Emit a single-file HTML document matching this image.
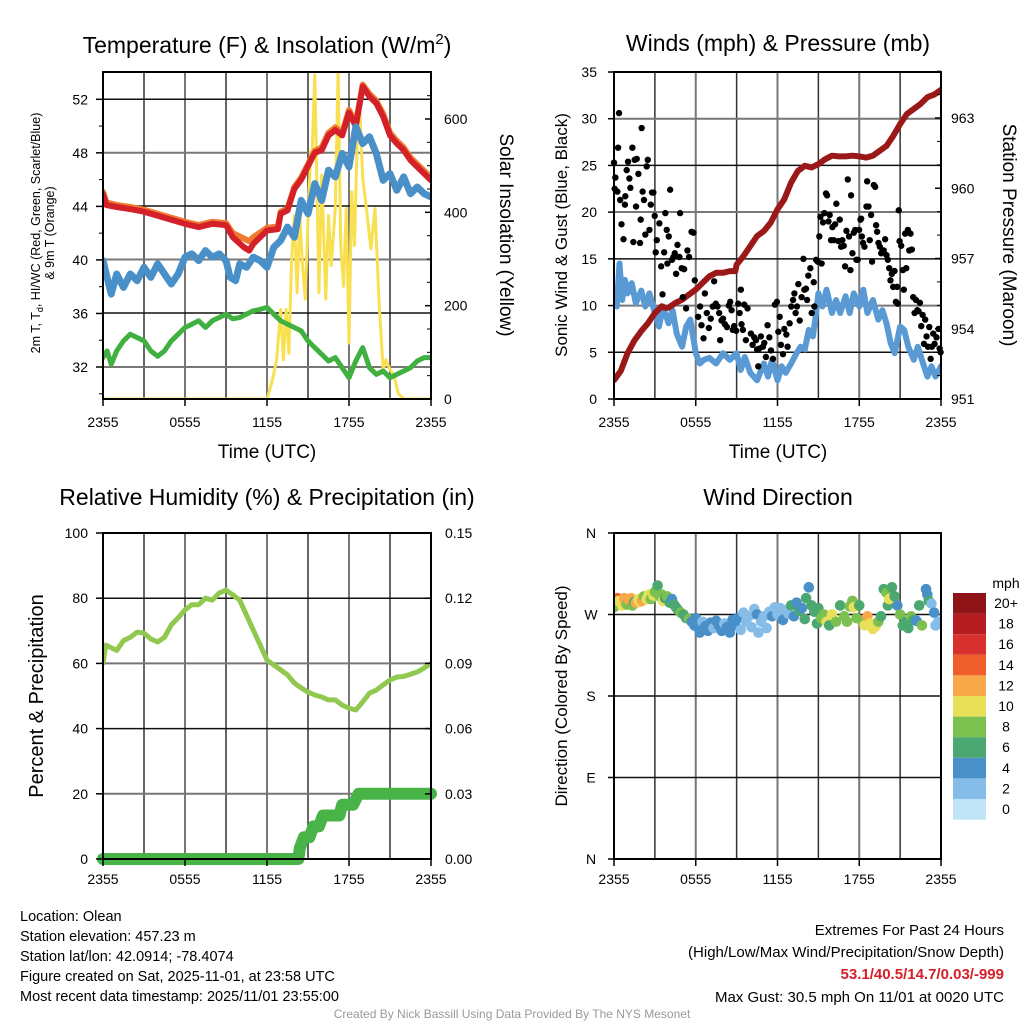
<!DOCTYPE html>
<html><head><meta charset="utf-8"><style>
body{margin:0;background:#fff;}
svg{display:block;font-family:"Liberation Sans",sans-serif;}
</style></head><body>
<svg id="c" width="1024" height="1024" viewBox="0 0 1024 1024" xmlns="http://www.w3.org/2000/svg"></svg>
<script>
// ===== DATA =====
const redHr=[0,0.25,1,2,3,4,5,6,7,8,9,9.5,10.3,10.7,11,12,12.8,13,13.5,14,14.5,15,15.5,16,16.5,17,17.5,18,18.5,19,19.5,20,20.5,21,21.5,22,22.5,23,23.5,24];
const redVal=[44.9,44.1,43.95,43.8,43.6,43.3,43,42.7,42.45,42.7,42.6,41.7,40.95,40.7,41.2,42.2,42.3,43.45,43.7,45.3,46,47,48,48.2,49.3,49.7,49.3,51,50,52.95,52.2,51.7,50.7,49.3,48.7,48.2,47.45,46.95,46.45,45.95];
const orangeVal=[45.1,44.3,44.1,43.95,43.75,43.45,43.15,42.85,42.6,42.85,42.75,42.0,41.6,41.4,41.7,42.4,42.5,43.6,43.85,45.45,46.15,47.15,48.15,48.4,49.5,49.9,49.5,51.2,50.2,53.1,52.4,51.9,50.9,49.5,48.9,48.4,47.65,47.15,46.65,46.15];
const dewHr=[0,0.3,0.6,1,1.5,2,2.5,3,3.5,4,4.5,5,5.5,6,6.5,7,7.5,8,8.5,9,9.3,9.7,10,10.5,11,11.5,12,12.5,13,13.5,14,14.5,15,15.5,16,16.5,17,17.5,18,18.5,19,19.5,20,20.5,21,21.5,22,22.5,23,23.5,24];
const dewVal=[39.95,38.7,37.45,38.95,37.95,38.95,38.45,39.45,38.7,39.7,38.95,38.2,38.95,40.2,40.45,39.95,40.7,40.2,40.45,39.95,38.7,38.45,39.7,39.45,40.2,39.95,39.45,40.95,41.45,42.45,41.7,44.45,43.45,45.7,44.45,46.7,46.2,47.95,46.95,49.95,48.7,49.2,47.95,45.95,46.45,45.2,46.2,44.95,45.45,44.95,44.7];
const tdHr=[0,0.3,0.6,1,1.5,2,2.5,3,3.5,4,4.5,5,5.5,6,6.5,7,7.5,8,8.5,9,9.5,10,10.5,11,11.5,12,12.5,13,13.5,14,14.5,15,15.5,16,16.5,17,17.5,18,18.5,19,19.5,20,20.5,21,21.5,22,22.5,23,23.5,24];
const tdVal=[32.7,33.2,32.2,33.2,33.95,34.45,34.2,33.95,33.2,32.8,33.2,33.95,34.45,34.95,35.2,35.45,34.95,35.45,35.7,35.95,35.6,35.7,35.95,36.2,36.3,36.45,35.95,35.45,35.2,34.95,34.7,33.95,33.45,32.95,32.45,32.7,31.95,31.2,32.45,33.45,31.95,31.45,31.7,31.2,31.45,31.7,31.95,32.45,32.7,32.7];
const solHr=[0,12,12.4,12.7,13,13.2,13.4,13.6,13.8,14,14.2,14.4,14.6,14.8,15,15.2,15.3,15.5,15.7,15.8,16,16.3,16.5,16.7,17,17.2,17.4,17.6,17.8,18,18.2,18.4,18.6,18.8,19,19.3,19.6,19.9,20.2,20.5,20.7,21,21.3,21.6,22,24];
const solVal=[0,0,41,84,192,84,192,98,300,393,228,393,286,214,386,530,523,695,386,228,480,214,393,286,408,703,329,242,408,120,444,329,559,616,474,401,322,408,206,63,84,63,50,12,0,0];
const presHr=[0,0.5,1,1.5,2,2.5,3,3.5,3.7,4,4.5,5,5.5,6,6.5,7,7.5,8,8.5,8.9,9,9.5,10,10.5,11,11.5,12,12.5,13,13.5,14,14.5,15,15.5,16,16.5,17,17.5,18,18.5,19,19.5,20,20.5,21,21.5,22,22.5,23,23.5,24];
const presVal=[951.8,952.2,952.96,953.5,953.9,954.24,954.67,954.96,954.9,954.9,955.1,955.24,955.46,955.67,955.96,956.24,956.39,956.39,956.46,956.46,956.74,957.1,957.53,957.96,958.17,958.53,959.1,959.53,960.24,960.74,960.96,960.89,961.03,961.24,961.39,961.36,961.36,961.39,961.36,961.31,961.39,961.6,961.81,962.24,962.74,963.17,963.39,963.6,963.89,964.0,964.2];
const windHr=[0,0.2,0.4,0.6,0.8,1,1.3,1.6,2,2.3,2.6,3,3.3,3.6,4,4.3,4.6,5,5.3,5.6,6,6.3,6.6,7,7.5,8,8.5,9,9.3,9.6,10,10.5,11,11.3,11.6,12,12.3,12.6,13,13.4,13.7,14,14.3,14.6,14.8,15,15.3,15.6,16,16.3,16.6,17,17.3,17.6,18,18.3,18.6,19,19.4,19.7,20,20.3,20.6,21,21.3,21.6,22,22.3,22.6,23,23.3,23.6,24];
const windVal=[10.6,9.9,14.5,10.6,12.75,11.3,12.4,10.25,11.6,9.9,11.3,9.2,7.75,9.9,8.1,9.5,7,5.6,7.75,8.5,4.9,3.8,4.2,4.4,3.8,4.9,4.2,4.9,3.1,4.5,2.8,2.0,3.8,2.4,4.2,2.0,3.5,2.8,3.8,4.9,5.6,5.3,7.4,6.7,8.8,11.3,9.9,11.7,9.2,10.6,9.2,11.0,9.2,11.3,9.9,11.7,9.2,10.6,8.5,9.5,8.1,6.0,4.9,7.75,7.4,5.6,4.2,5.6,4.2,2.4,3.5,2.4,3.5];
const gustHr=[0,0.1,0.05,0.3,0.37,0.25,0.45,0.55,0.7,0.8,0.83,0.93,1.03,1.13,1.2,1.35,1.42,1.52,1.62,1.67,1.79,1.91,1.96,2.03,2.1,2.2,2.3,2.4,2.48,2.6,2.7,2.79,2.89,2.99,3.06,3.14,3.33,3.46,3.56,3.68,3.77,3.87,3.92,4.02,4.12,4.26,4.36,4.46,4.56,4.66,4.8,4.85,4.97,5.05,5.15,5.29,5.39,5.51,5.69,5.83,5.93,6.18,6.32,6.42,6.57,6.67,6.81,6.96,7.1,7.25,7.35,7.47,7.6,7.72,7.79,7.89,8.0,8.14,8.29,8.43,8.53,8.63,8.72,8.82,8.97,9.12,9.22,9.31,9.36,9.46,9.56,9.68,9.8,10.05,10.17,10.29,10.42,10.5,10.59,10.66,10.78,10.93,11.03,11.15,11.27,11.4,11.52,11.67,11.81,11.96,12.06,12.16,12.25,12.4,12.5,12.65,12.74,12.89,13.01,13.14,13.24,13.33,13.43,13.53,13.63,13.77,13.9,13.97,14.09,14.17,14.26,14.41,14.51,14.66,14.71,14.83,14.95,15.07,15.15,15.24,15.34,15.44,15.56,15.64,15.74,15.83,15.93,16.03,16.13,16.23,16.32,16.47,16.57,16.67,16.76,16.86,16.96,17.06,17.16,17.25,17.35,17.4,17.5,17.6,17.7,17.79,17.89,17.99,18.09,18.14,18.19,18.28,18.38,18.53,18.58,18.68,18.77,18.87,18.94,19.07,19.17,19.24,19.31,19.41,19.51,19.61,19.71,19.8,19.9,20,20.1,20.2,20.29,20.39,20.49,20.59,20.69,20.78,20.83,20.9,20.96,21.08,21.2,21.27,21.37,21.45,21.57,21.67,21.76,21.86,21.96,22.06,22.16,22.26,22.35,22.45,22.55,22.65,22.75,22.84,22.94,23.04,23.14,23.24,23.33,23.43,23.53,23.67,23.82,23.9,23.97];
const gustVal=[25.3,23.7,22.5,26.9,30.6,22.2,21.3,18.7,17.1,20.8,21.7,24.5,25.4,23.6,22.6,26.9,16.8,25.6,20.6,25.7,24.1,16.7,19.2,29,22.2,21.3,17.6,24.9,25.6,18.1,20.8,22.1,22.1,19.6,15.7,17.0,18.8,14.2,11.2,15.7,19.9,18.1,14.5,17.4,22.4,14.9,15.2,15.6,13.4,16.5,15.2,19.9,14.0,10.9,13.9,9.7,15.9,15.2,17.9,17.8,12.7,8.8,9.9,7.9,6.5,11.3,9.2,7.6,8.6,9.9,12.6,10.2,9.9,9.2,6.3,8.4,8.6,8.0,7.7,10.0,10.4,9.5,7.4,7.8,7.3,10.2,9.2,11.7,8.0,7.4,10.1,6.3,9.7,7.0,5.8,6.6,6.3,5.3,3.5,5.4,6.7,5.6,6.0,4.5,7.9,6.6,5.2,4.3,10.1,10.4,7.2,8.8,5.8,4.8,7.5,6.9,5.6,8.1,9.9,10.6,11.3,9.2,9.9,12.3,8.4,10.9,15.0,11.7,11.8,10.6,13.2,14.0,9.2,12.5,9.9,14.9,14.7,17.4,19.5,14.5,18.9,19.9,22.0,21.8,19.0,19.7,17.0,18.4,17.0,18.7,20.9,16.9,19.2,16.3,17.0,16.4,14.2,18.0,23.5,17.4,13.8,21.8,15.6,17.8,18.1,14.9,14.9,18.1,19.2,19.3,17.4,16.7,16.3,20.6,23.3,20.6,17.0,19.7,14.7,22.9,22.7,18.6,17.9,16.7,16.3,15.6,15.9,15.9,17.1,15.4,14.9,14.0,12.7,13.4,12.0,13.7,10.4,12.0,10.2,20.2,16.9,16.4,13.8,11.7,17.7,14.0,18.1,15.9,17.7,16.0,10.9,9.2,10.6,9.5,9.4,10.3,7.8,9.0,5.9,8.5,6.7,5.6,7.7,4.3,5.6,7.0,5.9,6.6,7.5,5.4,5.0];
const rhHr=[0,0.2,1,1.5,2,2.5,3,3.5,4,4.5,5,5.5,6,6.5,7,7.5,8,8.5,9,9.5,10,10.5,11,11.5,12,12.5,13,13.5,14,14.5,15,15.5,16,16.5,17,17.5,18,18.5,19,19.5,20,20.5,21,21.5,22,22.5,23,23.5,24];
const rhVal=[60,65.6,64,67,68,69.6,69.3,67.5,66.6,68,71.8,74,76.4,78,78,80,79.4,81.6,82.5,81,79.4,74.8,70.2,65.6,61,59.5,58,56.5,54,52.5,51.2,50.3,49.7,48.8,48.8,47.2,46.3,45.7,48.2,50.9,51.8,53.4,54.9,55.8,56,56.7,57.4,58.6,60];
const pcpHr=[0,14.3,14.4,14.7,15.1,15.4,15.8,16.1,17.3,17.5,18.3,18.7,24];
const pcpVal=[0,0,0.005,0.01,0.01,0.015,0.015,0.02,0.02,0.025,0.025,0.03,0.03];
const dirHr=[0,0.15,0.25,0.35,0.5,0.6,0.75,0.85,0.95,1.1,1.25,1.35,1.5,1.6,1.8,1.9,2.05,2.2,2.4,2.55,2.7,2.9,3.0,3.2,3.35,3.5,3.6,3.75,3.9,4.1,4.25,4.4,4.55,4.7,4.9,5.1,5.3,5.5,5.7,5.9,6.0,6.2,6.3,6.5,6.7,6.9,7.1,7.3,7.5,7.7,7.9,8.1,8.3,8.5,8.7,8.9,9.1,9.3,9.5,9.7,9.9,10.1,10.3,10.5,10.6,10.8,11.0,11.2,11.4,11.6,11.8,12.0,12.2,12.4,12.6,12.8,13.0,13.2,13.4,13.6,13.8,14.0,14.1,14.3,14.5,14.7,14.9,15.0,15.2,15.4,15.6,15.8,16.0,16.3,16.6,16.9,17.1,17.3,17.5,17.6,17.8,18.0,18.2,18.4,18.6,18.8,19.0,19.2,19.4,19.6,19.8,20.0,20.1,20.2,20.4,20.6,20.8,21.0,21.2,21.4,21.6,21.8,22.0,22.2,22.4,22.6,22.9,23.0,23.1,23.3,23.5,23.6,23.8,24.0];
const dirDeg=[278,286,288,285,283,280,288,283,281,286,288,280,284,283,287,284,285,290,287,292,287,291,295,302,290,292,285,288,290,283,287,281,278,275,272,270,266,265,262,258,266,255,250,262,257,252,261,255,263,258,252,260,256,250,264,258,266,253,272,262,268,256,276,270,250,262,268,255,273,268,278,270,277,264,275,271,280,268,283,274,277,265,288,300,280,273,260,277,266,270,262,258,270,262,280,268,262,279,285,278,266,280,263,258,268,260,254,257,262,268,298,294,280,287,300,290,280,270,258,262,255,268,264,263,280,258,298,292,285,282,272,258,262,260];
const dirSpd=[9,12,15,11,10,11,12,13,8,12,13,9,7,12,11,11,12,8,10,11,9,11,8,6,9,8,10,7,8,6,4,7,6,7,8,6,7,8,4,4,4,4,4,3,4,4,4,3,4,4,4,3,4,4,4,4,4,2,2,3,2,2,2,4,2,2,3,2,2,4,3,2,2,4,2,3,6,4,4,6,4,6,6,4,7,6,7,6,8,9,11,6,10,9,7,9,8,8,9,10,9,7,8,10,12,10,10,10,8,7,7,8,6,10,7,6,4,8,7,6,6,8,7,4,6,8,4,4,6,3,4,2,2,3];
const cbLabels=["20+","18","16","14","12","10","8","6","4","2","0"];
const cbColors=["#8e1418","#b41c22","#d8302c","#ee5e2c","#f8a848","#e8e058","#7cc050","#4aa870","#4a90c8","#86bde8","#bfe4f8"];
const spdColors=["#bfe4f8","#86bde8","#4a90c8","#4aa870","#7cc050","#e8e058","#f8a848","#ee5e2c","#d8302c","#b41c22","#8e1418"];
const timeTicks=["2355","0555","1155","1755","2355"];

// ===== DRAW =====
const NS="http://www.w3.org/2000/svg";
const svg=document.getElementById('c');
function mk(tag,attrs,parent){const e=document.createElementNS(NS,tag);for(const k in attrs)e.setAttribute(k,attrs[k]);(parent||svg).appendChild(e);return e;}
function txt(s,x,y,size,anchor,parent,extra){const t=mk('text',Object.assign({x:x,y:y,'font-size':size,'text-anchor':anchor||'middle',fill:'#000'},extra||{}),parent);t.textContent=s;return t;}

const P=[
 {x0:103,x1:431,y0:72,y1:399},
 {x0:614,x1:941,y0:72,y1:399},
 {x0:103,x1:431,y0:533,y1:859},
 {x0:614,x1:941,y0:533,y1:859}];
function sx(p,h){return p.x0+(p.x1-p.x0)*h/24;}
function lin(v,a,b,ya,yb){return ya+(v-a)*(yb-ya)/(b-a);}
function clip(id,p){const cp=mk('clipPath',{id:id});mk('rect',{x:p.x0,y:p.y0,width:p.x1-p.x0,height:p.y1-p.y0},cp);}
P.forEach((p,i)=>clip('cl'+i,p));

function frame(p,name,hlines){
  const g=mk('g',{});
  
  
  for(let k=1;k<8;k++){const x=p.x0+(p.x1-p.x0)*k/8;mk('line',{x1:x,y1:p.y0,x2:x,y2:p.y1,stroke:k%2?'#333':'#777','stroke-width':k%2?1.5:2},g);}
  hlines.forEach((y,k)=>mk('line',{x1:p.x0,y1:y,x2:p.x1,y2:y,stroke:k%2?'#777':'#111','stroke-width':k%2?2:1.5},g));
  return g;
}
function border(p){mk('rect',{x:p.x0,y:p.y0,width:p.x1-p.x0,height:p.y1-p.y0,fill:'none',stroke:'#000','stroke-width':2});}
function xTicks(p,name,dy){
  const g=mk('g',{});
  
  
  timeTicks.forEach((t,k)=>{const x=p.x0+(p.x1-p.x0)*k/4;mk('line',{x1:x,y1:p.y1,x2:x,y2:p.y1+7,stroke:'#000','stroke-width':1.5},g);txt(t,x,p.y1+dy,14,'middle',g);});
}
function path(pts,stroke,w,parent,cp){let d='';pts.forEach((q,k)=>d+=(k?'L':'M')+q[0].toFixed(1)+','+q[1].toFixed(1));return mk('path',{d:d,fill:'none',stroke:stroke,'stroke-width':w,'stroke-linejoin':'round','stroke-linecap':'round','clip-path':'url(#'+cp+')'},parent);}

// ---- Panel 1 ----
const p1=P[0];
const tY=v=>lin(v,52,32,99.3,367);
const sY=v=>lin(v,0,600,399,119);
frame(p1,'temp-panel',[99.3,152.7,206,259.5,313,367]);
const g1=mk('g',{});
const sol=path(solHr.map((h,k)=>[sx(p1,h),sY(solVal[k])]),'#f8e050',3,g1,'cl0');
const oL=path(redHr.map((h,k)=>[sx(p1,h),tY(orangeVal[k])]),'#f07a30',6,g1,'cl0');
const rL=path(redHr.map((h,k)=>[sx(p1,h),tY(redVal[k])]),'#d42028',6,g1,'cl0');
const bL=path(dewHr.map((h,k)=>[sx(p1,h),tY(dewVal[k])]),'#4a90c8',7,g1,'cl0');
const gL=path(tdHr.map((h,k)=>[sx(p1,h),tY(tdVal[k])]),'#40b040',5,g1,'cl0');
border(p1);xTicks(p1,'temp',28);
[52,48,44,40,36,32].forEach(v=>{mk('line',{x1:96,y1:tY(v),x2:p1.x0,y2:tY(v),stroke:'#000','stroke-width':1.5});txt(String(v),88,tY(v)+5,14,'end');});
[50,46,42,38,34,30].forEach(v=>mk('line',{x1:99,y1:tY(v),x2:p1.x0,y2:tY(v),stroke:'#000','stroke-width':1}));
[0,200,400,600].forEach(v=>{mk('line',{x1:p1.x1,y1:sY(v),x2:p1.x1-6,y2:sY(v),stroke:'#000','stroke-width':1.5});txt(String(v),444,sY(v)+5,14,'start');});
[50,100,150,250,300,350,450,500,550,650,700].forEach(v=>mk('line',{x1:p1.x1,y1:sY(v),x2:p1.x1-4,y2:sY(v),stroke:'#000','stroke-width':1}));
const t1=mk('text',{x:267,y:53,'font-size':23,'text-anchor':'middle'});t1.innerHTML='Temperature (F) &amp; Insolation (W/m<tspan dy="-9" font-size="15">2</tspan><tspan dy="9">)</tspan>';

txt('Time (UTC)',267,458,19);
const yl1=mk('text',{x:0,y:0,'font-size':12.5,'text-anchor':'middle',transform:'translate(40,233) rotate(-90)'});yl1.innerHTML='2m T, T<tspan dy="3" font-size="9">d</tspan><tspan dy="-3">, HI/WC (Red, Green, Scarlet/Blue)</tspan>';

txt('& 9m T (Orange)',0,0,12.5,'middle',null,{transform:'translate(54,233) rotate(-90)'});
txt('Solar Insolation (Yellow)',0,0,19,'middle',null,{transform:'translate(500,235) rotate(90)'});

// ---- Panel 2 ----
const p2=P[1];
const wY=v=>lin(v,0,35,399,72);
const pY=v=>lin(v,951,963,399,118);
frame(p2,'wind-panel',[72,118.7,165.4,212,258.9,305.6,352.3]);
const g2=mk('g',{});
const wl=path(windHr.map((h,k)=>[sx(p2,h),wY(windVal[k])]),'#5a9ad4',6,g2,'cl1');
const pl=path(presHr.map((h,k)=>[sx(p2,h),pY(presVal[k])]),'#9a1818',6,g2,'cl1');
gustHr.forEach((h,k)=>{const c=mk('circle',{cx:sx(p2,h),cy:wY(gustVal[k]),r:3.2,fill:'#000'},g2);
 
 });
border(p2);xTicks(p2,'wind',28);
[0,5,10,15,20,25,30,35].forEach(v=>{mk('line',{x1:p2.x0-6,y1:wY(v),x2:p2.x0,y2:wY(v),stroke:'#000','stroke-width':1.5});txt(String(v),597,wY(v)+5,14,'end');});
[951,954,957,960,963].forEach(v=>{mk('line',{x1:p2.x1,y1:pY(v),x2:p2.x1-6,y2:pY(v),stroke:'#000','stroke-width':1.5});txt(String(v),951,pY(v)+5,14,'start');});
for(let v=952;v<=965;v++){if((v-951)%3)mk('line',{x1:p2.x1,y1:pY(v),x2:p2.x1-4,y2:pY(v),stroke:'#000','stroke-width':1});}
txt('Winds (mph) & Pressure (mb)',778,51,23);
txt('Time (UTC)',778,458,19);
txt('Sonic Wind & Gust (Blue, Black)',0,0,17,'middle',null,{transform:'translate(567,235) rotate(-90)'});
txt('Station Pressure (Maroon)',0,0,19,'middle',null,{transform:'translate(1003,235) rotate(90)'});

// ---- Panel 3 ----
const p3=P[2];
const rY=v=>lin(v,0,100,859,533);
const qY=v=>lin(v,0,0.15,859,533);
frame(p3,'rh-panel',[598.2,663.4,728.6,793.8]);
const g3=mk('g',{});
const rl=path(rhHr.map((h,k)=>[sx(p3,h),rY(rhVal[k])]),'#90c850',5,g3,'cl2');
const ql=path(pcpHr.map((h,k)=>[sx(p3,h),qY(pcpVal[k])]),'#48b448',12,g3,'cl2');ql.removeAttribute('clip-path');
border(p3);xTicks(p3,'rh',25);
[0,20,40,60,80,100].forEach(v=>{mk('line',{x1:96,y1:rY(v),x2:p3.x0,y2:rY(v),stroke:'#000','stroke-width':1.5});txt(String(v),88,rY(v)+5,14,'end');});
['0.00','0.03','0.06','0.09','0.12','0.15'].forEach(s=>{const v=parseFloat(s);mk('line',{x1:p3.x1,y1:qY(v),x2:p3.x1-6,y2:qY(v),stroke:'#000','stroke-width':1.5});txt(s,445,qY(v)+5,14,'start');});
txt('Relative Humidity (%) & Precipitation (in)',267,505,23);
txt('Percent & Precipitation',0,0,20,'middle',null,{transform:'translate(43,696) rotate(-90)'});

// ---- Panel 4 ----
const p4=P[3];
const dY=v=>lin(v,0,360,859,533);
frame(p4,'direction-panel',[]);
[90,180,270].forEach(v=>mk('line',{x1:p4.x0,y1:dY(v),x2:p4.x1,y2:dY(v),stroke:'#111','stroke-width':1.5}));
const g4=mk('g',{'clip-path':'url(#cl3)'});
dirHr.forEach((h,k)=>{const ci=Math.min(10,Math.floor(dirSpd[k]/2));const c=mk('circle',{cx:sx(p4,h),cy:dY(dirDeg[k]),r:5.3,fill:spdColors[ci]},g4);
 
 });
border(p4);xTicks(p4,'direction',25);
[['N',360],['W',270],['S',180],['E',90],['N',0]].forEach(a=>{mk('line',{x1:p4.x0-6,y1:dY(a[1]),x2:p4.x0,y2:dY(a[1]),stroke:'#000','stroke-width':1.5});txt(a[0],591,dY(a[1])+5,14,'middle');});
txt('Wind Direction',778,505,23);
txt('Direction (Colored By Speed)',0,0,17,'middle',null,{transform:'translate(567,696) rotate(-90)'});
const cb=mk('g',{});
txt('mph',1006,588,14,'middle',cb);
cbColors.forEach((c,k)=>{mk('rect',{x:953,y:593+k*20.6,width:33,height:20.6,fill:c},cb);txt(cbLabels[k],1006,593+k*20.6+15,14,'middle',cb);});

// ---- Footer ----
const ft=mk('g',{});
['Location: Olean','Station elevation: 457.23 m','Station lat/lon: 42.0914; -78.4074','Figure created on Sat, 2025-11-01, at 23:58 UTC','Most recent data timestamp: 2025/11/01 23:55:00'].forEach((s,k)=>txt(s,20,921+k*20,14.5,'start',ft));
const ex=mk('g',{});
txt('Extremes For Past 24 Hours',1004,935,15,'end',ex);
txt('(High/Low/Max Wind/Precipitation/Snow Depth)',1004,957,15,'end',ex);
txt('53.1/40.5/14.7/0.03/-999',1004,979,15,'end',ex,{fill:'#d42028','font-weight':'bold'});
txt('Max Gust: 30.5 mph On 11/01 at 0020 UTC',1004,1002,15,'end',ex);
txt('Created By Nick Bassill Using Data Provided By The NYS Mesonet',512,1018,12,'middle',null,{fill:'#999'});
</script>
</body></html>
